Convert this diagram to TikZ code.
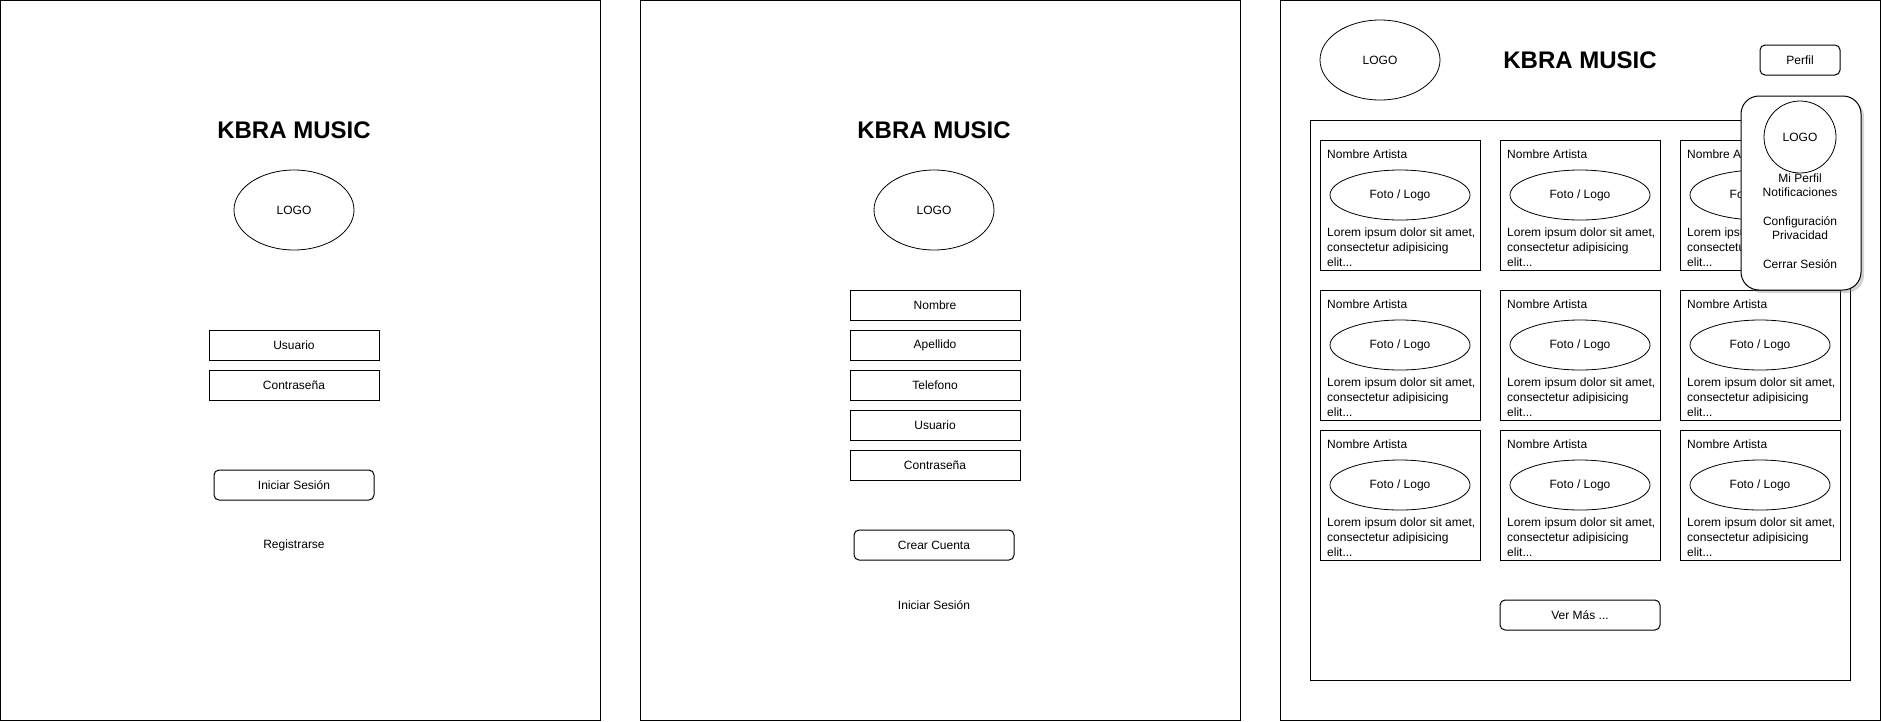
\documentclass[tikz,border=0pt]{standalone}
\usepackage{fontspec}
\setmainfont{Liberation Sans}
\usetikzlibrary{shapes.geometric,shadows}

\tikzset{
  txt/.style={font=\fontsize{12}{14}\selectfont, inner sep=0pt},
  title/.style={font=\bfseries\fontsize{24}{28}\selectfont, inner sep=0pt},
  field/.style={txt, draw, line width=1pt, minimum width=170pt, minimum height=30pt},
  button/.style={field, rounded corners=5pt, minimum width=160pt},
  logo/.style={txt, draw, ellipse, line width=.8pt, minimum width=120pt, minimum height=80pt},
  foto/.style={logo, minimum width=140pt, minimum height=50pt},
  card/.style={draw, line width=1pt, minimum width=160pt, minimum height=130pt, inner sep=0pt},
  menubox/.style={draw, line width=1pt, fill=white, rounded corners=18pt, minimum width=120pt,
    minimum height=194pt, drop shadow={shadow xshift=3pt, shadow yshift=-3pt, opacity=.35}}
}

\begin{document}
\begin{tikzpicture}[x=1pt, y=-1pt]
  \useasboundingbox (0,0) rectangle (1881,721);

  % login
  \draw[line width=1pt] (0.5,0.5) rectangle (600.5,720.5);
  \node[title] (title1) at (294,130) {KBRA MUSIC};
  \node[logo] (logo1) at (294,210) {LOGO};
  \node[field] (user1) at (294,345) {Usuario};
  \node[field] (pass1) at (294,385) {Contraseña};
  \node[button] (login1) at (294,485) {Iniciar Sesión};
  \node[txt] (reg1) at (294,545) {Registrarse};

  % registro
  \draw[line width=1pt] (640.5,0.5) rectangle (1240.5,720.5);
  \node[title] (title2) at (934,130) {KBRA MUSIC};
  \node[logo] (logo2) at (934,210) {LOGO};
  \foreach \name [count=\i from 0] in {Nombre,Apellido,Telefono,Usuario,Contraseña}
    \node[field] (reg2-\i) at (935,305+40*\i) {\name};
  \node[button] (create2) at (934,545) {Crear Cuenta};
  \node[txt] (login2) at (934,605) {Iniciar Sesión};

  % inicio
  \draw[line width=1pt] (1280.5,0.5) rectangle (1880.5,720.5);
  \node[logo] (logo3) at (1380,60) {LOGO};
  \node[title] (title3) at (1580,60) {KBRA MUSIC};
  \node[button, minimum width=80pt] (perfil) at (1800,60) {Perfil};
  \draw[line width=1pt] (1310.5,120.5) rectangle (1850.5,680.5);

  \foreach \c in {0,1,2}
    \foreach \r/\y in {0/140,1/290,2/430} {
      \node[card] (card-\c-\r) at ({1400+180*\c},\y+65) {};
      \node[txt, anchor=west] (name-\c-\r) at ({1327+180*\c},\y+14) {Nombre Artista};
      \node[foto] (foto-\c-\r) at ({1400+180*\c},\y+55) {Foto / Logo};
      \node[txt, font=\fontsize{12}{14.6}\selectfont, anchor=north west, align=left] (desc-\c-\r)
        at ({1327+180*\c},\y+88) {Lorem ipsum dolor sit amet,\\consectetur adipisicing\\elit...};
    }
  \node[button] (vermas) at (1580,615) {Ver Más ...};

  % menu perfil
  \node[menubox] (menu) at (1801,193) {};
  \node[txt, draw, circle, line width=.8pt, minimum size=72pt] (logo4) at (1800,137) {LOGO};
  \node[txt, align=center] (menu1) at (1800,185) {Mi Perfil\\Notificaciones};
  \node[txt, align=center] (menu2) at (1800,228) {Configuración\\Privacidad};
  \node[txt] (menu3) at (1800,264) {Cerrar Sesión};
\end{tikzpicture}
\end{document}
